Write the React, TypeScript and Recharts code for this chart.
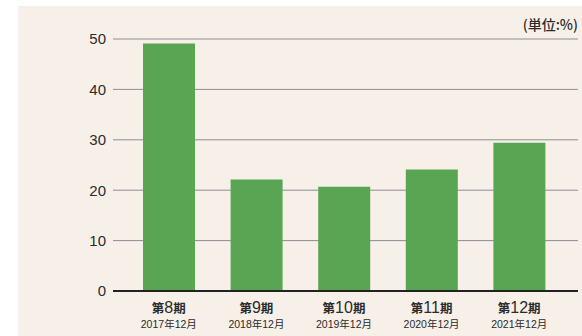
import React from "react";
import { BarChart, Bar, XAxis, YAxis, CartesianGrid, ReferenceLine } from "recharts";

const periods = ["第8期", "第9期", "第10期", "第11期", "第12期"];
const dates = ["2017年12月", "2018年12月", "2019年12月", "2020年12月", "2021年12月"];
const values = [49.1, 22.1, 20.7, 24.1, 29.4];
const yTicks = [0, 10, 20, 30, 40, 50];

const data = periods.map((p, i) => ({ period: p, date: dates[i], value: values[i] }));

const FONT = '"Liberation Sans", Arial, "Noto Sans CJK JP", sans-serif';
const CJK = '"Noto Sans CJK JP", sans-serif';

const PeriodTick = (props: any) => {
  const { x, y, payload, index } = props;
  const m = /^(第)(\d+)(期)$/.exec(payload.value) || ["", "", payload.value, ""];
  return (
    <g transform={`translate(${x},${y})`}>
      <text textAnchor="middle" y={14} fill="#2b2b2b" fontFamily={FONT}>
        <tspan fontSize={12.5} fontFamily={CJK} fontWeight={700}>{m[1]}</tspan>
        <tspan fontSize={16}>{m[2]}</tspan>
        <tspan fontSize={12.5} fontFamily={CJK} fontWeight={700}>{m[3]}</tspan>
      </text>
      <text textAnchor="middle" y={29} fill="#2b2b2b" fontFamily={FONT} fontSize={10.5}>
        {dates[index]}
      </text>
    </g>
  );
};

export default function App() {
  return (
    <div style={{ position: "absolute", left: 0, top: 0, width: 582, height: 336, background: "#fff" }}>
      <div style={{ position: "absolute", left: 18, top: 6, right: 0, bottom: 0, background: "#f7f0e9" }} />
      <div style={{ position: "absolute", left: 0, top: 0 }}>
        <BarChart width={582} height={336} data={data} margin={{ top: 39, right: 4, left: 0, bottom: 5 }}>
          <CartesianGrid vertical={false} stroke="#8e8e8e" strokeWidth={1} />
          <XAxis
            dataKey="period"
            height={40}
            tickLine={false}
            axisLine={false}
            tickSize={6}
            tickMargin={2}
            interval={0}
            padding={{ left: 12, right: 15 }}
            tick={<PeriodTick />}
          />
          <YAxis
            width={113}
            domain={[0, 50]}
            ticks={yTicks}
            tickLine={false}
            axisLine={false}
            tickSize={6}
            tickMargin={1}
            tick={{ fill: "#2b2b2b", fontSize: 15, fontFamily: FONT }}
          />
          <Bar dataKey="value" fill="#59a553" barSize={52} isAnimationActive={false} />
          <ReferenceLine y={0} stroke="#222" strokeWidth={2.2} />
          <text x={578} y={30} textAnchor="end" fontSize={14} fill="#2b2b2b" fontFamily={CJK} fontWeight={500}>
            (単位:%)
          </text>
        </BarChart>
      </div>
    </div>
  );
}
